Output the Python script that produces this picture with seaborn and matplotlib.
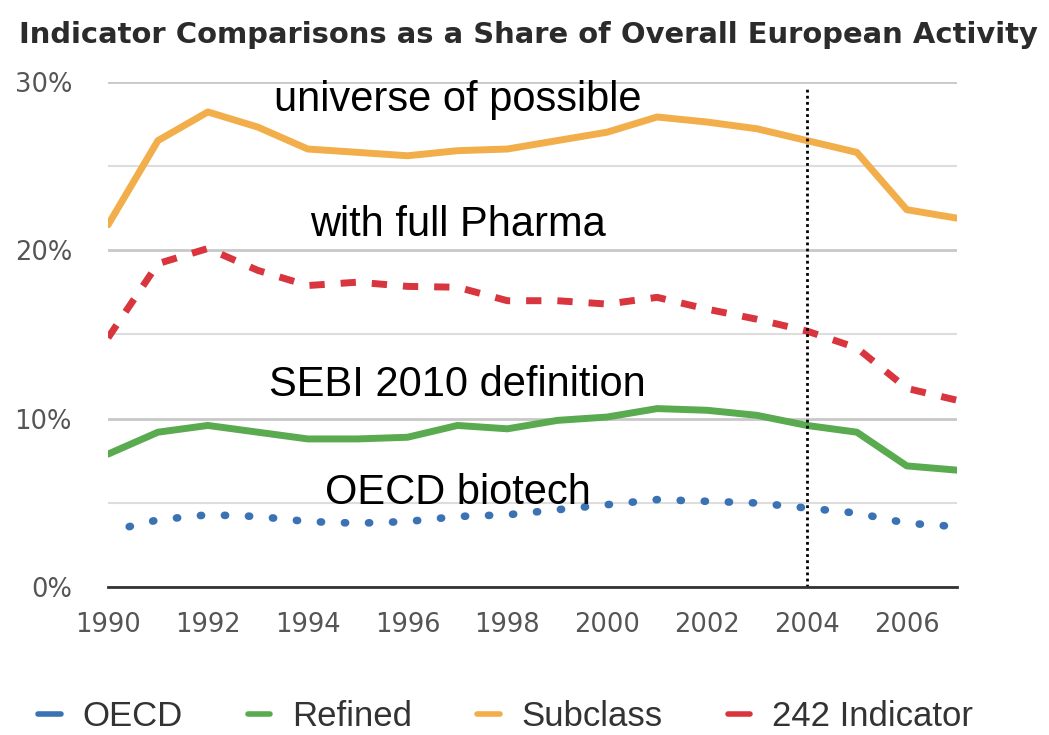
import pandas as pd
import numpy as np
import matplotlib.pyplot as plt
import seaborn as sns

# ── Data (% share) ────────────────────────────────────────────────
years = list(range(1990, 2008))
subclass  = [21.5, 26.5, 28.2, 27.3, 26.0, 25.8, 25.6, 25.9, 26.0, 26.5, 27.0, 27.9, 27.6, 27.2, 26.5, 25.8, 22.4, 21.9]
indicator = [14.8, 19.2, 20.1, 18.8, 17.9, 18.1, 17.85, 17.8, 17.0, 17.0, 16.8, 17.2, 16.5, 15.9, 15.2, 14.2, 11.8, 11.1]
refined   = [7.9, 9.2, 9.6, 9.2, 8.8, 8.8, 8.9, 9.6, 9.4, 9.9, 10.1, 10.6, 10.5, 10.2, 9.6, 9.2, 7.2, 6.95]
oecd      = [3.3, 4.0, 4.3, 4.2, 3.9, 3.8, 3.9, 4.2, 4.3, 4.6, 4.9, 5.2, 5.1, 5.0, 4.7, 4.4, 3.8, 3.6]

series_names = ["OECD", "Refined", "Subclass", "242 Indicator"]
notes = ["universe of possible", "with full Pharma", "SEBI 2010 definition", "OECD biotech"]
note_y = [28.9, 21.5, 12.0, 5.6]

df = pd.DataFrame({"year": years, "OECD": oecd, "Refined": refined,
                   "Subclass": subclass, "242 Indicator": indicator})
long = df.melt(id_vars="year", var_name="series", value_name="share")

colors = {"OECD": "#3b72b4", "Refined": "#5aaa50",
          "Subclass": "#f2ae4a", "242 Indicator": "#d8353e"}
styles = {"OECD": (0.3, (0.15, 3.0)), "Refined": "-",
          "Subclass": "-", "242 Indicator": (0, (2.2, 2.3))}

# ── Plot ───────────────────────────────────────────────────────────
sns.set_style("white")
plt.rcParams['font.family'] = ['Liberation Sans', 'DejaVu Sans']

fig = plt.figure(figsize=(10.49, 7.35), dpi=100)
ax = fig.add_axes([0.103, 0.201, 0.809, 0.688])

for name in series_names:
    sub = long[long["series"] == name]
    sns.lineplot(data=sub, x="year", y="share", ax=ax, color=colors[name],
                 linewidth=5 if name != "OECD" else 5.5, label=name)
    ln = ax.lines[-1]
    ln.set_linestyle(styles[name])
    ln.set_dash_capstyle("round" if name == "OECD" else "butt")

ax.set_xlim(1990, 2007)
ax.set_ylim(0, 30)
ax.set_yticks([0, 10, 20, 30])
ax.set_yticklabels(["0%", "10%", "20%", "30%"])
ax.set_yticks([5, 15, 25], minor=True)
ax.set_xticks(range(1990, 2008))
ax.set_xticklabels([str(y) if y % 2 == 0 else "" for y in years])
ax.grid(axis="y", which="major", color="#c8c8c8", linewidth=2)
ax.grid(axis="y", which="minor", color="#dddddd", linewidth=1.5)
ax.set_axisbelow(True)
for s in ["left", "right", "top"]:
    ax.spines[s].set_visible(False)
ax.spines["bottom"].set_color("#333333")
ax.spines["bottom"].set_linewidth(2)
ax.tick_params(axis="x", direction="in", length=6, width=1.5, color="#333333",
               labelsize=18.5, labelcolor="#555555", pad=18)
ax.tick_params(axis="y", length=0, labelsize=18.5, labelcolor="#555555", pad=26)
ax.tick_params(axis="y", which="minor", length=0)
for lab in ax.get_xticklabels() + ax.get_yticklabels():
    lab.set_fontfamily("DejaVu Sans")
ax.set_xlabel("")
ax.set_ylabel("")

ax.axvline(2004, ymax=0.988, color="black", linestyle=(0, (1, 1.2)), linewidth=2)

for txt, yv in zip(notes, note_y):
    ax.text(1997, yv, txt, fontsize=30, ha="center", va="center", color="black")

fig.text(0.018, 0.952, "Indicator Comparisons as a Share of Overall European Activity",
         fontsize=20.9, fontweight="bold", family="DejaVu Sans",
         color="#2b2b2b", ha="left", va="center")

handles, labels = ax.get_legend_handles_labels()
leg = fig.legend(handles, labels, loc="center", bbox_to_anchor=(0.482, 0.025),
                 ncol=4, frameon=False, fontsize=25, handlelength=0.65,
                 columnspacing=1.87, handletextpad=0.63)
for h in leg.get_lines():
    h.set_linestyle("-")
    h.set_linewidth(4)
    h.set_solid_capstyle("round")
for t in leg.get_texts():
    t.set_color("#333333")
ax.get_legend().remove()

fig.savefig("out.png", dpi=100)
